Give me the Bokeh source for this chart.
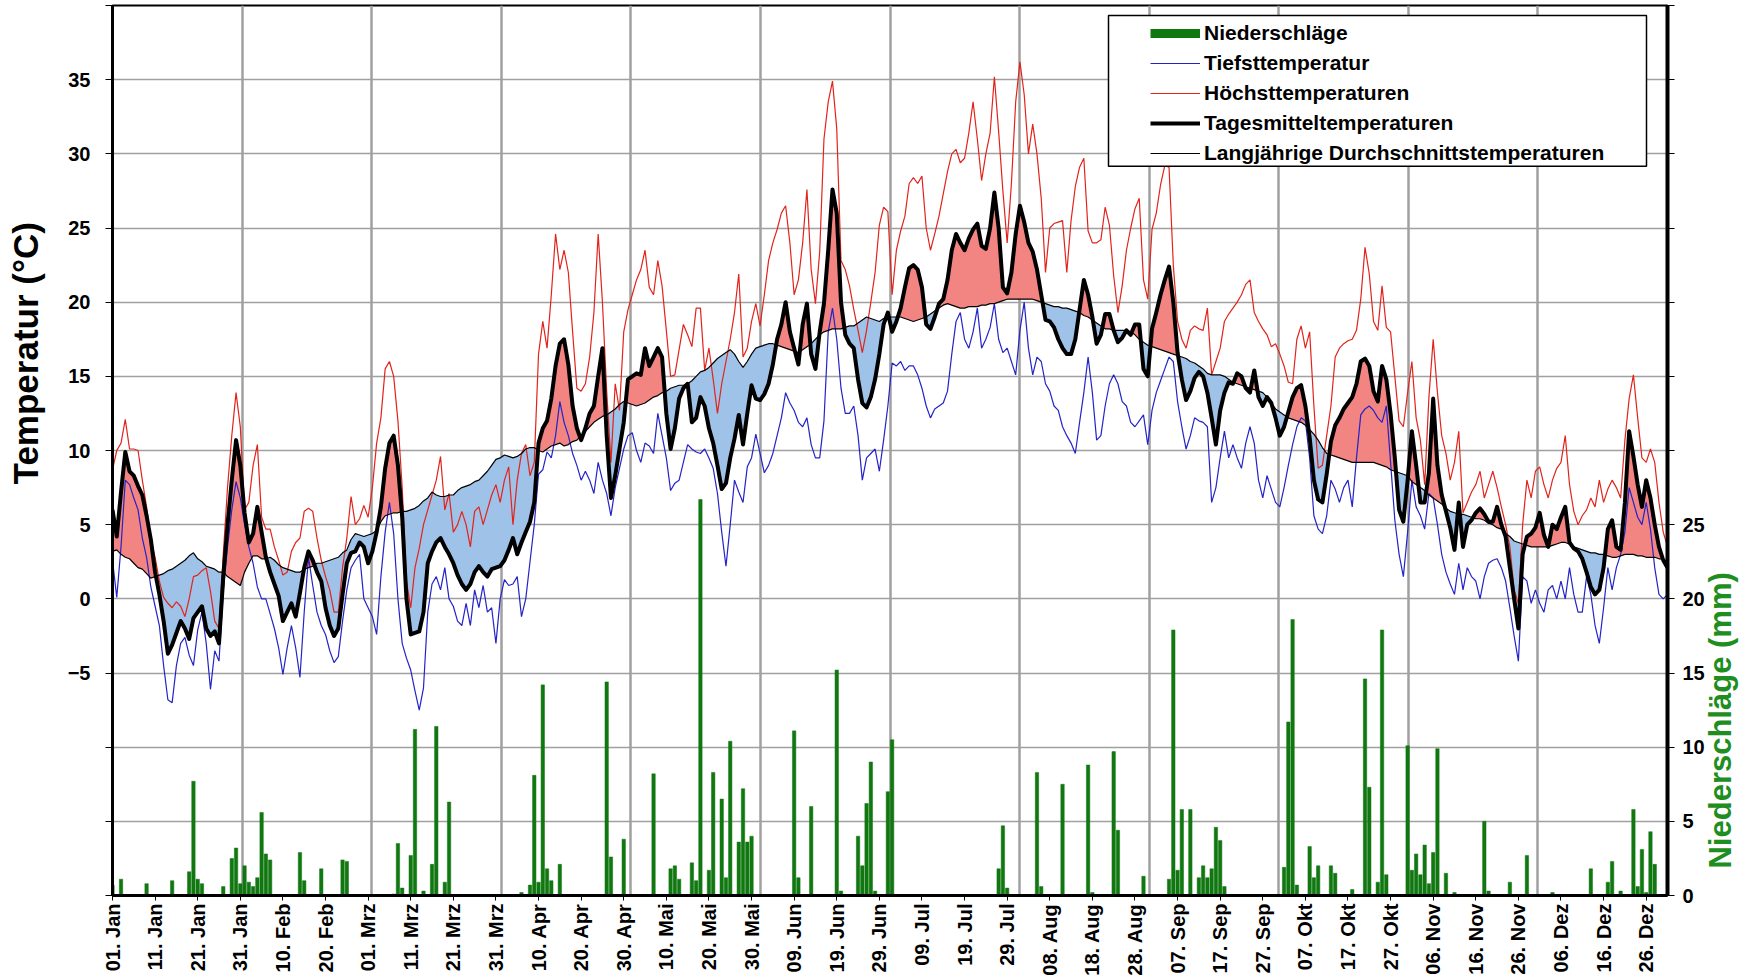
import math
import numpy as np
from bokeh.plotting import figure
from bokeh.models import Range1d, LinearAxis, FixedTicker, Legend, LegendItem, BoxAnnotation
from bokeh.embed import file_html
from bokeh.resources import INLINE

# ---------------- data (leap year, day index 0 = 01. Jan) ----------------
tmean = [6.0, 4.2, 7.2, 9.9, 8.6, 8.3, 7.6, 7.0, 5.6, 4.0,
 1.8, 0.3, -1.5, -3.7, -3.1, -2.3, -1.5, -2.0, -2.7, -1.3,
 -0.9, -0.5, -2.0, -2.5, -2.2, -3.0, 1.5, 5.0, 8.0, 10.7,
 9.0, 5.8, 3.8, 4.4, 6.2, 4.5, 2.8, 1.8, 1.0, 0.2,
 -1.5, -0.9, -0.3, -1.2, 0.4, 2.1, 3.2, 2.6, 1.8, 1.2,
 -0.6, -1.8, -2.5, -2.0, 0.3, 2.4, 3.1, 3.2, 3.8, 3.5,
 2.4, 3.2, 4.5, 6.2, 8.8, 10.5, 11.0, 9.0, 5.5, 0.0,
 -2.4, -2.3, -2.2, -0.9, 2.4, 3.2, 3.8, 4.1, 3.5, 3.0,
 2.4, 1.6, 1.0, 0.6, 1.0, 1.8, 2.2, 1.8, 1.5, 2.0,
 2.1, 2.2, 2.6, 3.3, 4.1, 3.0, 3.8, 4.5, 5.2, 6.5,
 10.5, 11.5, 12.0, 13.5, 15.7, 17.2, 17.5, 15.8, 13.0, 11.5,
 10.7, 11.5, 12.5, 13.0, 15.0, 16.9, 11.0, 6.8, 8.3, 10.1,
 11.9, 14.8, 15.0, 15.2, 15.1, 16.9, 15.7, 16.3, 16.9, 16.3,
 12.5, 10.1, 11.5, 13.5, 14.2, 14.5, 11.9, 12.2, 13.6, 13.0,
 11.5, 10.5, 9.0, 7.4, 7.8, 9.5, 10.8, 12.4, 10.4, 12.5,
 14.4, 13.5, 13.4, 13.8, 14.5, 15.8, 17.5, 18.5, 20.0, 18.0,
 16.9, 15.8, 18.5, 19.9, 16.5, 15.5, 18.0, 19.9, 23.5, 27.6,
 26.0, 20.0, 17.8, 17.2, 16.9, 14.8, 13.2, 12.9, 13.6, 14.8,
 16.5, 18.5, 19.3, 18.0, 18.7, 19.6, 21.0, 22.3, 22.5, 22.2,
 21.0, 18.5, 18.2, 19.0, 19.9, 20.2, 21.5, 23.5, 24.6, 24.0,
 23.5, 24.3, 24.9, 25.3, 23.8, 23.6, 25.0, 27.4, 25.0, 21.0,
 20.6, 22.0, 24.6, 26.5, 25.4, 24.0, 23.4, 22.2, 20.5, 18.8,
 18.7, 18.3, 17.5, 16.9, 16.5, 16.5, 17.5, 19.5, 21.5, 20.5,
 19.0, 17.2, 17.8, 19.2, 19.2, 18.1, 17.3, 17.6, 18.1, 17.8,
 18.5, 18.5, 15.5, 15.0, 18.2, 19.3, 20.5, 21.5, 22.4, 20.0,
 16.6, 14.8, 13.4, 14.0, 14.9, 15.3, 15.0, 13.9, 12.2, 10.4,
 12.7, 13.9, 14.6, 14.5, 15.2, 15.0, 14.2, 13.9, 15.4, 13.6,
 13.0, 13.6, 13.2, 12.2, 11.0, 11.6, 12.6, 13.6, 14.2, 14.4,
 13.0, 10.9, 8.0, 6.7, 6.5, 8.4, 10.6, 11.7, 12.2, 12.8,
 13.2, 13.6, 14.5, 16.0, 16.2, 15.7, 14.0, 13.3, 15.7, 14.8,
 12.5, 9.5, 6.0, 5.2, 8.0, 11.3, 9.0, 6.5, 6.5, 8.5,
 13.5, 9.0, 7.0, 5.9, 4.8, 3.3, 6.5, 3.5, 5.0, 5.3,
 5.8, 6.1, 5.7, 5.2, 5.2, 6.2, 5.0, 4.2, 2.1, 0.0,
 -2.0, 3.0, 4.2, 4.4, 4.8, 5.8, 4.3, 3.5, 5.0, 4.7,
 5.5, 6.2, 3.8, 3.4, 3.2, 2.7, 1.8, 0.8, 0.3, 0.6,
 2.1, 4.7, 5.3, 3.5, 3.3, 6.5, 11.3, 9.6, 7.7, 6.2,
 8.0, 6.8, 5.0, 3.5, 2.6, 2.1]

tmax = [8.7, 10.0, 10.5, 12.1, 10.1, 10.1, 10.0, 8.0, 6.2, 4.0,
 2.8, 1.2, 0.1, -0.3, -0.6, -0.2, -0.5, -1.2, 0.0, 1.5,
 1.6, 1.9, 2.1, 0.5, -1.5, -2.0, 3.0, 7.5, 11.0, 13.9,
 11.6, 6.0, 6.5, 9.0, 10.4, 5.5, 4.7, 4.7, 3.5, 2.6,
 1.6, 1.8, 3.2, 3.8, 4.1, 5.9, 6.1, 5.9, 4.1, 2.6,
 1.5, 0.6, -0.9, -0.9, 2.1, 4.1, 6.9, 5.0, 5.4, 6.3,
 5.5, 7.5, 10.5, 12.2, 15.5, 16.0, 15.0, 12.0, 7.5, 1.2,
 -0.6, 2.1, 3.4, 5.0, 6.0, 7.0, 8.0, 9.6, 6.0, 7.1,
 4.5, 5.0, 5.9, 5.0, 3.5, 5.9, 6.2, 5.0, 6.0, 7.0,
 7.7, 6.5, 8.0, 8.9, 5.0, 8.0, 9.8, 10.4, 8.3, 9.2,
 16.5, 18.7, 16.9, 20.5, 24.6, 22.2, 23.5, 22.0, 18.0, 14.2,
 14.0, 14.5, 16.3, 19.3, 24.6, 20.0, 14.0, 9.2, 14.5, 12.7,
 18.0, 19.5, 20.5, 21.5, 22.2, 23.5, 21.0, 20.5, 22.8, 21.1,
 18.1, 15.0, 15.1, 16.8, 18.5, 17.8, 17.0, 19.6, 19.6, 15.4,
 16.9, 14.8, 12.5, 14.5, 16.0, 17.5, 19.3, 21.9, 16.3, 16.9,
 18.7, 19.9, 18.4, 20.5, 22.8, 24.0, 24.9, 26.0, 26.5, 24.0,
 20.5, 21.5, 24.0, 27.6, 22.2, 19.9, 23.4, 31.0, 33.5, 34.9,
 31.7, 22.8, 22.2, 21.1, 19.5, 18.1, 16.6, 18.1, 20.0, 22.0,
 25.2, 26.4, 26.1, 20.5, 23.5, 24.8, 25.8, 28.0, 28.4, 28.0,
 28.5, 25.0, 23.5, 24.6, 25.8, 27.3, 28.8, 30.0, 30.3, 29.4,
 29.7, 31.4, 33.5, 31.0, 28.2, 30.0, 31.4, 35.2, 31.5, 27.5,
 24.0, 28.0, 33.5, 36.2, 34.0, 30.0, 32.0, 30.0, 27.0, 22.0,
 25.0, 25.3, 25.4, 25.5, 22.0, 25.5, 27.8, 29.1, 29.7, 24.8,
 24.0, 24.0, 24.2, 26.4, 25.2, 21.8, 19.3, 21.1, 23.5, 25.0,
 26.3, 27.0, 21.5, 20.2, 24.9, 26.0, 27.9, 29.2, 29.1, 22.5,
 18.7, 17.5, 16.9, 18.1, 18.4, 18.2, 18.1, 19.6, 15.1, 16.0,
 16.9, 18.7, 19.2, 19.6, 20.0, 20.5, 21.2, 21.5, 19.3, 18.7,
 18.2, 17.8, 17.0, 17.2, 16.5, 15.7, 14.6, 14.5, 17.5, 18.4,
 16.9, 18.0, 13.0, 8.8, 9.0, 11.0, 13.0, 16.3, 16.9, 17.2,
 17.4, 17.5, 18.1, 20.2, 23.7, 21.9, 18.7, 18.1, 21.1, 18.3,
 18.0, 15.0, 12.0, 11.6, 13.9, 16.0, 12.2, 10.7, 7.7, 13.6,
 17.5, 13.9, 11.0, 9.8, 8.0, 9.2, 11.3, 5.8, 6.5, 7.2,
 7.7, 8.6, 6.8, 7.7, 8.6, 7.5, 6.2, 5.0, 3.5, 0.6,
 -0.3, 5.0, 8.0, 6.8, 8.6, 8.9, 7.7, 6.8, 8.0, 8.8,
 9.2, 11.0, 7.7, 5.9, 5.0, 5.6, 6.0, 6.8, 6.2, 8.0,
 6.5, 7.4, 8.0, 7.5, 6.8, 10.7, 13.5, 15.1, 12.2, 9.5,
 9.2, 10.1, 9.2, 6.5, 4.5, 3.5]

tmin = [2.6, 0.1, 3.5, 8.0, 7.7, 6.8, 6.0, 4.1, 2.8, 0.8,
 -0.5, -1.8, -4.5, -6.8, -7.0, -4.5, -3.0, -2.6, -3.8, -4.5,
 -2.1, -0.9, -3.0, -6.1, -3.5, -4.2, 0.5, 3.5, 6.0, 7.9,
 6.8, 5.0, 3.5, 2.4, 0.8, 0.0, 0.0, -1.0, -2.0, -3.3,
 -5.1, -3.3, -1.8, -3.3, -5.3, -0.9, 2.8, 0.9, -0.9, -1.8,
 -2.4, -3.5, -4.3, -3.9, -1.5, 0.6, 2.1, 2.6, 3.0, 0.0,
 -0.6, -1.2, -2.4, 1.5, 4.5, 6.5, 4.4, 0.0, -3.0, -4.0,
 -4.8, -6.2, -7.5, -6.0, -0.9, 1.0, 1.5, 0.6, 2.1, 0.0,
 -0.5, -1.5, -1.8, -0.3, -1.8, 0.6, -0.6, 0.9, -0.9, -0.6,
 -3.0, 0.0, 1.3, 0.9, 1.0, 1.5, -1.2, 0.0, 2.5, 5.0,
 8.4, 8.7, 9.9, 9.5, 11.0, 13.3, 11.9, 11.0, 9.8, 9.0,
 8.0, 8.6, 8.0, 7.1, 9.2, 8.0, 7.1, 5.6, 7.5, 8.8,
 10.1, 11.0, 11.2, 10.0, 9.2, 10.5, 10.3, 9.8, 12.5, 11.0,
 9.5, 7.3, 7.8, 8.0, 9.2, 10.4, 10.1, 9.9, 9.8, 10.1,
 9.5, 8.8, 7.1, 4.5, 2.2, 5.0, 8.0, 7.2, 6.5, 8.9,
 9.5, 11.1, 9.8, 8.5, 9.0, 9.8, 11.0, 12.2, 13.9, 13.2,
 12.7, 11.9, 11.6, 12.2, 10.4, 9.5, 9.5, 12.0, 18.0, 19.6,
 17.5, 14.2, 12.5, 12.5, 13.0, 11.0, 8.0, 9.5, 9.8, 10.1,
 8.6, 10.7, 13.0, 15.9, 15.7, 16.0, 15.4, 15.7, 15.7, 15.1,
 14.2, 13.0, 12.2, 12.8, 13.0, 13.2, 14.0, 16.5, 18.7, 19.3,
 17.5, 16.9, 18.0, 19.6, 16.9, 17.5, 18.3, 19.9, 17.5, 16.6,
 16.9, 16.0, 15.1, 18.1, 20.0, 16.9, 15.1, 16.3, 16.0, 14.5,
 14.0, 13.0, 12.7, 11.6, 11.0, 10.5, 9.8, 11.9, 13.9, 16.3,
 13.9, 10.7, 11.0, 13.0, 14.5, 15.1, 14.5, 13.3, 13.0, 11.9,
 11.6, 12.0, 12.4, 10.4, 12.7, 13.9, 14.7, 15.5, 16.3, 16.0,
 13.3, 11.6, 10.1, 11.0, 12.2, 12.0, 11.9, 11.6, 6.5, 7.5,
 9.5, 11.3, 9.5, 10.4, 9.5, 8.8, 10.5, 11.6, 10.5, 8.0,
 6.8, 8.3, 7.4, 6.5, 6.2, 7.5, 9.0, 10.4, 11.6, 12.2,
 12.0, 9.5, 5.6, 4.7, 4.4, 5.6, 8.0, 7.4, 6.5, 7.5,
 8.0, 6.2, 9.5, 12.4, 12.8, 13.0, 12.7, 12.2, 11.9, 13.0,
 9.2, 5.3, 3.0, 1.5, 4.5, 8.0, 6.2, 5.6, 4.7, 7.1,
 6.8, 5.0, 3.0, 1.8, 1.0, 0.3, 2.4, 0.6, 2.1, 1.5,
 1.2, 0.0, 1.5, 2.4, 2.6, 2.7, 2.1, 1.2, -0.6, -2.5,
 -4.2, 1.5, 1.2, -0.3, 0.6, -0.3, -0.9, 0.6, 0.9, 0.0,
 1.2, 0.0, 2.1, 0.3, -0.9, -0.9, 1.5, 0.3, -1.8, -3.0,
 -0.6, 2.1, 0.6, 2.1, 3.0, 4.5, 7.5, 6.5, 5.5, 5.0,
 6.5, 4.7, 2.1, 0.3, 0.0, 0.3]

tavg = [3.2, 3.3, 3.0, 2.8, 2.7, 2.4, 2.1, 2.0, 1.7, 1.4,
 1.5, 1.6, 1.7, 1.9, 2.0, 2.2, 2.4, 2.6, 2.9, 3.1,
 2.7, 2.5, 2.2, 2.1, 2.0, 1.8, 1.8, 1.5, 1.3, 1.1,
 0.9, 1.8, 2.4, 2.9, 2.9, 2.7, 2.7, 2.8, 2.6, 2.3,
 2.1, 2.0, 1.9, 1.8, 1.8, 2.0, 2.1, 2.2, 2.4, 2.4,
 2.5, 2.6, 2.7, 2.8, 3.1, 3.3, 4.0, 4.4, 4.3, 4.2,
 4.3, 4.4, 4.6, 5.2, 5.6, 5.7, 5.8, 5.8, 5.9, 5.9,
 6.0, 6.1, 6.3, 6.6, 6.8, 7.2, 7.0, 6.9, 6.9, 7.0,
 7.0, 7.3, 7.5, 7.6, 7.7, 7.9, 8.0, 8.3, 8.6, 9.0,
 9.4, 9.5, 9.7, 9.6, 9.5, 9.6, 9.8, 10.1, 10.2, 10.2,
 10.0, 9.9, 10.1, 10.3, 10.4, 10.5, 10.3, 10.4, 10.6, 10.7,
 11.0, 11.3, 11.6, 11.9, 12.1, 12.3, 12.4, 12.6, 12.8, 13.1,
 13.3, 13.2, 13.1, 13.0, 13.1, 13.2, 13.4, 13.6, 13.7, 13.9,
 14.0, 14.2, 14.3, 14.4, 14.4, 14.5, 14.7, 15.0, 15.3, 15.4,
 15.6, 15.9, 16.2, 16.4, 16.6, 16.8, 16.5, 16.0, 15.6, 16.0,
 16.5, 16.9, 17.0, 17.1, 17.2, 17.2, 17.1, 17.0, 16.9, 16.8,
 16.7, 16.6, 16.8, 17.0, 17.2, 17.5, 17.8, 18.0, 18.1, 18.2,
 18.2, 18.2, 18.3, 18.4, 18.4, 18.6, 18.8, 19.0, 18.9, 18.8,
 18.7, 18.9, 19.0, 19.0, 19.0, 19.0, 18.9, 18.8, 18.7, 18.8,
 18.9, 19.0, 19.2, 19.4, 19.6, 19.8, 19.9, 19.8, 19.7, 19.6,
 19.6, 19.7, 19.7, 19.7, 19.8, 19.8, 19.9, 19.9, 20.0, 20.1,
 20.2, 20.2, 20.2, 20.2, 20.2, 20.2, 20.2, 20.1, 20.0, 19.9,
 19.8, 19.7, 19.7, 19.6, 19.6, 19.5, 19.4, 19.3, 19.1, 19.0,
 18.8, 18.6, 18.4, 18.2, 18.2, 18.1, 18.1, 18.1, 18.1, 18.0,
 17.8, 17.5, 17.3, 17.1, 17.0, 16.9, 16.8, 16.7, 16.6, 16.5,
 16.4, 16.3, 16.2, 16.0, 15.9, 15.7, 15.5, 15.2, 15.1, 15.1,
 15.1, 15.0, 14.8, 14.6, 14.5, 14.4, 14.3, 14.2, 14.1, 14.0,
 13.9, 13.6, 13.2, 12.8, 12.6, 12.4, 12.2, 12.1, 12.0, 11.9,
 11.7, 11.4, 11.1, 10.7, 10.2, 9.8, 9.7, 9.6, 9.5, 9.4,
 9.3, 9.2, 9.2, 9.2, 9.2, 9.2, 9.2, 9.1, 9.0, 8.9,
 8.7, 8.6, 8.5, 8.4, 8.3, 7.9, 7.7, 7.5, 7.3, 7.0,
 6.8, 6.6, 6.4, 6.1, 5.9, 5.8, 5.7, 5.7, 5.6, 5.5,
 5.4, 5.4, 5.3, 5.1, 5.0, 4.8, 4.7, 4.4, 4.2, 3.9,
 3.8, 3.7, 3.6, 3.5, 3.5, 3.5, 3.5, 3.5, 3.6, 3.7,
 3.8, 3.8, 3.7, 3.5, 3.4, 3.3, 3.2, 3.1, 3.1, 3.0,
 3.0, 2.9, 2.8, 2.8, 2.9, 3.0, 3.0, 3.0, 2.9, 2.9,
 2.8, 2.8, 2.8, 2.7, 2.7, 2.5]

rain_day = [0, 2, 8, 14, 18, 19, 20, 21, 26, 28, 29, 30, 31, 32, 33, 34, 35, 36, 37,
 44, 45, 49, 54, 55, 66, 67, 68, 70, 71, 73, 75, 76, 78, 79, 96, 98, 99, 100, 101,
 102, 103, 105, 116, 117, 120, 127, 131, 132, 133, 136, 137, 138, 140, 141, 143,
 144, 145, 147, 148, 149, 150, 160, 161, 164, 170, 171, 175, 176, 177, 178, 179,
 182, 183, 208, 209, 210, 217, 218, 223, 229, 230, 235, 236, 242, 248, 249, 250,
 251, 253, 255, 256, 257, 258, 259, 260, 261, 275, 276, 277, 278, 281, 282, 283,
 286, 287, 291, 294, 295, 297, 298, 299, 304, 305, 306, 307, 308, 309, 310, 311,
 313, 315, 322, 323, 328, 332, 338, 347, 351, 352, 354, 357, 358, 359, 360, 361, 362]
rain_mm = [0.7, 1.1, 0.8, 1.0, 1.6, 7.7, 1.1, 0.8, 0.6, 2.5, 3.2, 0.8, 2.0, 0.9, 0.6, 1.2, 5.6, 2.8, 2.4,
 2.9, 1.0, 1.8, 2.4, 2.3, 0.1, 3.5, 0.5, 2.7, 11.2, 0.3, 2.1, 11.4, 0.9, 6.3, 0.2, 0.7, 8.1, 0.9, 14.2,
 1.8, 1.0, 2.1, 14.4, 2.6, 3.8, 8.2, 1.8, 2.0, 1.1, 2.2, 1.0, 26.7, 1.7, 8.3, 6.5,
 1.2, 10.4, 3.6, 7.2, 3.6, 4.0, 11.1, 1.2, 6.0, 15.2, 0.3, 4.0, 2.0, 6.2, 9.0, 0.3,
 7.0, 10.5, 1.8, 4.7, 0.5, 8.3, 0.6, 7.5, 8.8, 0.2, 9.7, 4.4, 1.3, 1.1, 17.9, 1.7,
 5.8, 5.8, 1.2, 2.0, 1.2, 1.8, 4.6, 3.7, 0.6, 1.9, 11.7, 18.6, 0.7, 3.3, 1.2, 2.0,
 2.0, 1.5, 0.4, 14.6, 7.3, 0.9, 17.9, 1.4, 10.1, 1.7, 2.8, 1.4, 3.4, 0.8, 2.9, 9.9,
 1.5, 0.2, 5.0, 0.3, 0.9, 2.7, 0.2, 1.8, 0.9, 2.3, 0.3, 5.8, 0.6, 3.1, 0.2, 4.3, 2.1]

tick_days = list(range(0, 361, 10))
tick_labels = ["01. Jan", "11. Jan", "21. Jan", "31. Jan", "10. Feb", "20. Feb",
 "01. Mrz", "11. Mrz", "21. Mrz", "31. Mrz", "10. Apr", "20. Apr", "30. Apr",
 "10. Mai", "20. Mai", "30. Mai", "09. Jun", "19. Jun", "29. Jun", "09. Jul",
 "19. Jul", "29. Jul", "08. Aug", "18. Aug", "28. Aug", "07. Sep", "17. Sep",
 "27. Sep", "07. Okt", "17. Okt", "27. Okt", "06. Nov", "16. Nov", "26. Nov",
 "06. Dez", "16. Dez", "26. Dez"]
temp_ticks = list(range(-20, 41, 5))
mm_ticks = list(range(0, 61, 5))

assert len(tmean) == len(tmax) == len(tmin) == len(tavg) == 366
assert len(rain_day) == len(rain_mm)
assert len(tick_days) == len(tick_labels)

days = list(range(366))

# ---------------- styles / geometry ----------------
FONT = "Liberation Sans"
RED = "#E2231C"
BLUE = "#2323C8"
GREEN = "#117711"
GREEN_LABEL = "#1E8E1E"
RED_FILL = "#F28482"
BLUE_FILL = "#9EC2E8"
GRID = "#A0A0A0"
NBSP = "\u00a0"

W, H = 1758, 978
B_LEFT, B_RIGHT, B_TOP, B_BOTTOM = 112, 91, 5, 82
X0, X1, Y0, Y1 = 0, 365, -20, 40
MM0, MM1 = 0, 60
FRAME_W = W - B_LEFT - B_RIGHT
FRAME_H = H - B_TOP - B_BOTTOM


def px_to_x(px):
    return X0 + (px - B_LEFT) * (X1 - X0) / FRAME_W


def px_to_y(py):
    return Y1 - (py - B_TOP) * (Y1 - Y0) / FRAME_H


def px_to_mm(py):
    return MM1 - (py - B_TOP) * (MM1 - MM0) / FRAME_H


p = figure(width=W, height=H, x_range=Range1d(X0, X1), y_range=Range1d(Y0, Y1),
           output_backend="svg", toolbar_location=None, title=None,
           min_border_left=B_LEFT, min_border_right=B_RIGHT,
           min_border_top=B_TOP, min_border_bottom=B_BOTTOM)
p.background_fill_color = "white"
p.border_fill_color = "white"
p.outline_line_color = "black"
p.outline_line_width = 2
p.extra_y_ranges = {"mm": Range1d(MM0, MM1)}

# grids
p.xgrid.ticker = FixedTicker(ticks=[k * 365 / 12 for k in range(1, 12)])
p.xgrid.grid_line_color = GRID
p.xgrid.grid_line_width = 2.5
p.ygrid.ticker = FixedTicker(ticks=temp_ticks[1:-1])
p.ygrid.grid_line_color = GRID
p.ygrid.grid_line_width = 1.5

# x axis
xax = p.xaxis[0]
xax.ticker = FixedTicker(ticks=tick_days)
xax.major_label_overrides = {d: s for d, s in zip(tick_days, tick_labels)}
xax.major_label_orientation = math.pi / 2
xax.major_label_text_font = FONT
xax.major_label_text_font_style = "bold"
xax.major_label_text_font_size = "20px"
xax.major_label_text_color = "black"
xax.major_label_standoff = 3
xax.major_tick_out = 5
xax.major_tick_in = 0
xax.minor_tick_line_color = None
xax.axis_line_width = 3
xax.axis_line_color = "black"
xax.major_tick_line_color = "black"

# left axis; title padded with no-break spaces so it sits over the labelled range like the original
yax = p.yaxis[0]
yax.ticker = FixedTicker(ticks=temp_ticks)
yax.major_label_overrides = {t: "" for t in (-20, -15, -10, 40)}
yax.axis_label = NBSP * 20 + "Temperatur (°C)"
yax.axis_label_text_font = FONT
yax.axis_label_text_font_style = "bold"
yax.axis_label_text_font_size = "35px"
yax.axis_label_text_color = "black"
yax.axis_label_standoff = 20
yax.major_label_text_font = FONT
yax.major_label_text_font_style = "bold"
yax.major_label_text_font_size = "20px"
yax.major_label_text_color = "black"
yax.major_label_standoff = 15
yax.major_tick_out = 7
yax.major_tick_in = 0
yax.minor_tick_line_color = None
yax.axis_line_width = 3
yax.axis_line_color = "black"

# right axis (precipitation)
rax = LinearAxis(y_range_name="mm", ticker=FixedTicker(ticks=mm_ticks))
rax.major_label_overrides = {t: "" for t in mm_ticks if t > 25}
rax.major_label_text_font = FONT
rax.major_label_text_font_style = "bold"
rax.major_label_text_font_size = "20px"
rax.major_label_text_color = "black"
rax.major_label_standoff = 8
rax.major_tick_out = 7
rax.major_tick_in = 0
rax.minor_tick_line_color = None
rax.axis_line_width = 4
rax.axis_line_color = "black"
p.add_layout(rax, "right")

# precipitation axis title: a rotated label starting low on the right side, like the original
title_pos = [px_to_mm(869)]
rtitle = LinearAxis(y_range_name="mm", ticker=FixedTicker(ticks=title_pos))
rtitle.major_label_overrides = {title_pos[0]: "Niederschläge (mm)"}
rtitle.major_label_orientation = math.pi / 2
rtitle.major_label_text_font = FONT
rtitle.major_label_text_font_style = "bold"
rtitle.major_label_text_font_size = "31px"
rtitle.major_label_text_color = GREEN_LABEL
rtitle.major_label_standoff = 13
rtitle.major_tick_out = 0
rtitle.major_tick_in = 0
rtitle.major_tick_line_color = None
rtitle.minor_tick_line_color = None
rtitle.axis_line_color = None
p.add_layout(rtitle, "right")

# ---------------- fills between daily mean and long-term mean ----------------
m = np.array(tmean, dtype=float)
a = np.array(tavg, dtype=float)
x = np.array(days, dtype=float)
fx, fm, fa = [x[0]], [m[0]], [a[0]]
for i in range(len(m) - 1):
    d0 = m[i] - a[i]
    d1 = m[i + 1] - a[i + 1]
    if d0 * d1 < 0:
        t = d0 / (d0 - d1)
        yc = a[i] + t * (a[i + 1] - a[i])
        fx.append(x[i] + t); fm.append(yc); fa.append(yc)
    fx.append(x[i + 1]); fm.append(m[i + 1]); fa.append(a[i + 1])
fm = np.array(fm)
fa = np.array(fa)
p.varea(x=fx, y1=fa, y2=np.maximum(fm, fa), fill_color=RED_FILL, fill_alpha=1.0)
p.varea(x=fx, y1=fa, y2=np.minimum(fm, fa), fill_color=BLUE_FILL, fill_alpha=1.0)

# ---------------- precipitation bars ----------------
p.vbar(x=rain_day, top=rain_mm, bottom=0, width=0.8, y_range_name="mm",
       fill_color=GREEN, line_color=GREEN, line_width=0.5)

# ---------------- temperature lines ----------------
r_min = p.line(days, tmin, line_color=BLUE, line_width=1.2)
r_max = p.line(days, tmax, line_color=RED, line_width=1.2)
r_avg = p.line(days, tavg, line_color="black", line_width=1.2)
r_mean = p.line(days, tmean, line_color="black", line_width=4, line_join="round")

# legend-only renderer for the precipitation key (a thick green stroke, nothing drawn in the plot)
r_rain_leg = p.line(x=[float("nan")], y=[float("nan")], line_color=GREEN, line_width=9)

# legend frame (box in page pixels: left, right, top, bottom)
LEG_L, LEG_R, LEG_T, LEG_B = 1108, 1646, 15, 166
p.add_layout(BoxAnnotation(left=px_to_x(LEG_L), right=px_to_x(LEG_R),
                           top=px_to_y(LEG_T), bottom=px_to_y(LEG_B),
                           fill_color="white", fill_alpha=1.0,
                           line_color="black", line_width=1.5, line_alpha=1.0))

legend = Legend(items=[
    LegendItem(label="Niederschläge", renderers=[r_rain_leg]),
    LegendItem(label="Tiefsttemperatur", renderers=[r_min]),
    LegendItem(label="Höchsttemperaturen", renderers=[r_max]),
    LegendItem(label="Tagesmitteltemperaturen", renderers=[r_mean]),
    LegendItem(label="Langjährige Durchschnittstemperaturen", renderers=[r_avg]),
], location=(1038, FRAME_H - LEG_B + B_TOP), orientation="vertical")
legend.label_text_font = FONT
legend.label_text_font_style = "bold"
legend.label_text_font_size = "21px"
legend.label_text_color = "black"
legend.glyph_width = 50
legend.glyph_height = 22
legend.label_height = 22
legend.label_width = 432
legend.label_standoff = 4
legend.spacing = 6
legend.padding = 5
legend.margin = 0
legend.border_line_color = None
legend.background_fill_alpha = 0.0
p.add_layout(legend)

with open("out.html", "w", encoding="utf-8") as f:
    f.write(file_html(p, INLINE))
